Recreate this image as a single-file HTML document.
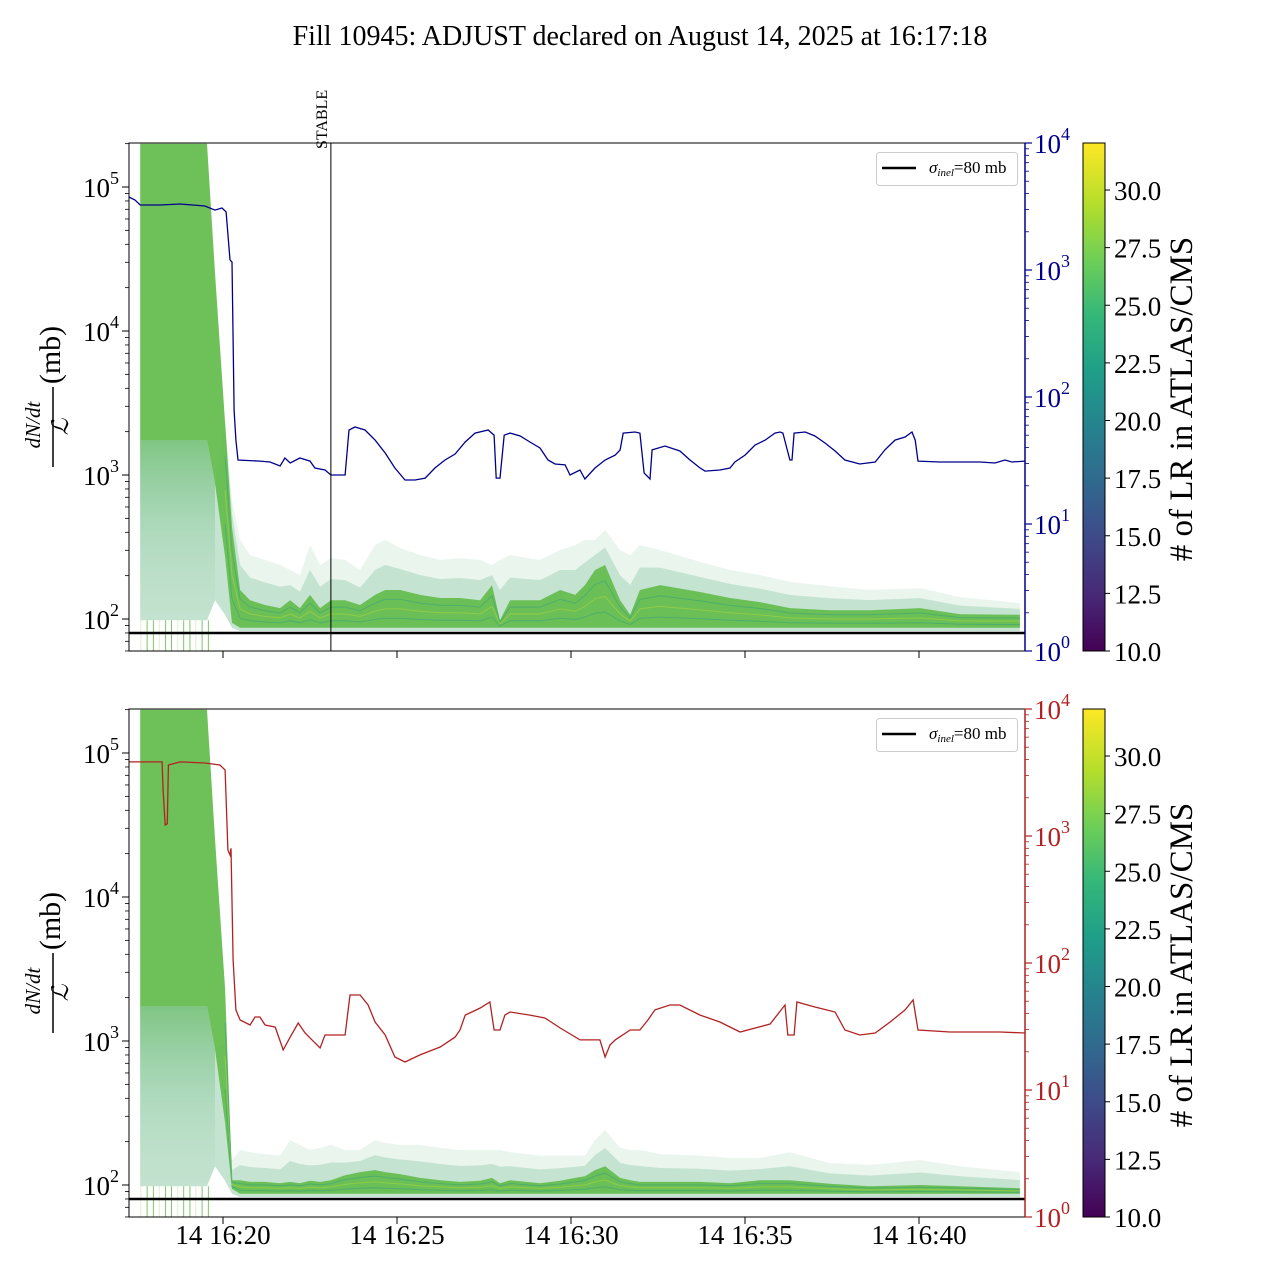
<!DOCTYPE html>
<html><head><meta charset="utf-8"><style>
html,body{margin:0;padding:0;background:#fff;}
svg{display:block;font-family:"Liberation Serif","DejaVu Serif",serif;}
</style></head><body>
<svg id="chart" width="1280" height="1280" viewBox="0 0 1280 1280" xmlns="http://www.w3.org/2000/svg">
<defs>
<linearGradient id="viridis" x1="0" y1="1" x2="0" y2="0">
<stop offset="0" stop-color="#440154"/><stop offset="0.11" stop-color="#482878"/><stop offset="0.22" stop-color="#3e4989"/><stop offset="0.33" stop-color="#31688e"/><stop offset="0.44" stop-color="#26828e"/><stop offset="0.55" stop-color="#1f9e89"/><stop offset="0.66" stop-color="#35b779"/><stop offset="0.77" stop-color="#6ece58"/><stop offset="0.88" stop-color="#b5de2b"/><stop offset="1" stop-color="#fde725"/>
</linearGradient>
<linearGradient id="fade" x1="0" y1="0" x2="0" y2="1">
<stop offset="0" stop-color="#66bd50" stop-opacity="0.9"/><stop offset="0.5" stop-color="#7cc88a" stop-opacity="0.35"/><stop offset="1" stop-color="#e4f2e4" stop-opacity="0.1"/>
</linearGradient>
<clipPath id="clipTop"><rect x="129" y="143" width="896" height="508"/></clipPath>
<clipPath id="clipBot"><rect x="129" y="709" width="896" height="508"/></clipPath>
</defs>
<text x="640" y="45" font-size="28" text-anchor="middle">Fill 10945: ADJUST declared on August 14, 2025 at 16:17:18</text>
<g id="root"></g>
</svg>
<script>
// ---- data (time in minutes after 16:00) ----
const bandTime = [17.62,19.54,19.77,20.06,20.26,20.49,20.78,21.21,21.64,21.93,22.21,22.5,22.79,23.1,23.51,23.94,24.37,24.66,25.09,25.66,26.24,26.81,27.39,27.73,27.96,28.25,29.11,29.69,30.12,30.4,30.69,30.98,31.41,31.7,31.98,32.56,33.71,34.57,35.43,36.29,37.44,38.59,40.03,41.18,42.9];
const topFaintUp = [200000,200000,25300,2300,670,354,278,257,237,219,202,326,237,265,257,219,326,354,311,278,257,265,257,237,257,278,257,301,326,354,354,415,301,278,326,301,249,219,202,181,169,159,164,142,129];
const topCoreUp  = [200000,200000,25300,2300,435,159,135,125,119,135,119,147,119,135,135,125,147,159,159,147,140,140,135,172,98,135,135,159,147,172,219,237,135,107,159,172,154,140,131,119,115,115,119,108,107];
const botFaintUp = [200000,200000,866,389,149,175,169,164,160,205,190,175,181,190,175,175,205,196,190,190,181,175,175,175,175,169,160,160,160,160,205,241,181,175,175,164,160,154,154,169,142,138,149,135,123];
const botCoreUp  = [200000,200000,25300,2300,108,108,105,105,103,105,103,107,105,108,117,123,127,123,119,112,108,105,107,112,103,108,103,107,112,115,127,135,112,108,105,105,105,103,108,108,102,98,100,98,95];
const coreLo     = [1750,1750,880,270,94,87,87,87,87,87,87,87,87,87,87,87,87,87,87,87,87,87,87,87,87,87,87,87,87,87,87,87,87,87,87,87,87,87,87,87,87,87,87,87,87];
const faintLo    = [98,98,135,107,87,82.5,82.5,82.5,82.5,82.5,82.5,82.5,82.5,82.5,82.5,82.5,82.5,82.5,82.5,82.5,82.5,82.5,82.5,82.5,82.5,82.5,82.5,82.5,82.5,82.5,82.5,82.5,82.5,82.5,82.5,82.5,82.5,82.5,82.5,82.5,82.5,82.5,82.5,82.5,82.5];
const dropTimes = [17.64,17.82,18.0,18.17,18.35,18.52,18.7,18.87,19.05,19.22,19.4,19.58];

const blueTime = [17.3,17.47,17.62,18.19,18.77,19.48,19.77,19.97,20.09,20.2,20.26,20.32,20.37,20.43,21.06,21.35,21.64,21.78,21.93,22.21,22.5,22.64,22.93,23.1,23.51,23.62,23.79,24.08,24.37,24.66,24.94,25.23,25.52,25.81,26.09,26.38,26.67,26.96,27.24,27.62,27.79,27.85,27.96,28.08,28.25,28.54,28.82,29.11,29.34,29.54,29.83,29.97,30.26,30.4,30.69,30.98,31.27,31.41,31.5,31.84,31.98,32.1,32.27,32.33,32.7,33.13,33.42,33.71,33.85,34.28,34.57,34.71,35.0,35.29,35.58,35.86,36.01,36.09,36.29,36.35,36.41,36.73,37.01,37.3,37.59,37.87,38.3,38.74,39.02,39.31,39.6,39.8,39.89,39.97,40.6,41.75,42.18,42.47,42.67,43.05];
const blueVal = [3757,3556,3250,3250,3310,3190,2965,3080,2865,1200,1156,79,45.8,31.9,31.3,30.8,28.6,33.1,30.2,33.1,31.3,27.6,26.6,24.3,24.3,55,58,55,45.8,36.2,27.6,22.2,22.2,23,27.6,31.9,35.6,44.2,52,55,50,23,23,50,52,49.3,44.2,39.7,31.9,29.7,29.2,24.3,26.6,22.6,27.6,31.9,34.9,38.3,52,53,52,25.2,22.6,38.3,41.1,37.6,31.9,27.6,26.1,26.6,27.6,30.8,34.9,41.9,45.8,52,53,52,31.9,31.9,52,53,49.3,43.4,37.6,31.9,29.7,30.8,38.3,45.8,48.4,53,45.8,31.3,30.8,30.8,30.2,31.9,30.8,31.3];

const redTime = [17.3,18.19,18.25,18.28,18.34,18.4,18.43,18.77,19.48,19.91,20.06,20.14,20.2,20.23,20.29,20.37,20.49,20.78,20.92,21.06,21.21,21.5,21.73,21.93,22.16,22.36,22.5,22.79,22.93,23.51,23.65,23.94,24.17,24.37,24.66,24.94,25.23,25.66,26.24,26.67,26.81,26.96,27.39,27.67,27.79,27.96,28.1,28.25,28.82,29.25,29.69,30.26,30.83,30.98,31.12,31.27,31.7,31.98,32.21,32.41,32.84,33.13,33.71,34.28,34.86,35.72,36.15,36.23,36.41,36.49,37.01,37.59,37.87,38.3,38.74,39.17,39.6,39.83,39.97,40.89,42.33,43.05];
const redVal = [3830,3830,3830,2300,1220,1250,3620,3830,3760,3620,3310,776,708,800,106,42.7,35.6,32.5,37.6,37.6,32.5,31.3,20.7,26.1,33.7,28.1,25.7,21.4,27.1,27.1,56,56,46.7,34.3,27.1,18.2,16.6,18.9,21.8,26.1,29.7,38.9,44.2,49.3,29.7,29.7,38.9,41.1,38.9,36.9,30.8,24.8,24.8,18.2,22.6,24.8,29.7,29.7,35.6,42.7,46.7,46.7,38.9,34.3,28.6,33.1,46.7,27.1,27.1,49.3,45,41.1,29.7,27.1,28.1,34.3,42.7,51.2,29.7,28.6,28.6,28.1];

const leftTicks = [2,3,4,5];
const rightTicks = [0,1,2,3,4];
const xTickTimes = [20,25,30,35,40];
const xTickLabels = ["14 16:20","14 16:25","14 16:30","14 16:35","14 16:40"];
const cbarTicks = [10.0,12.5,15.0,17.5,20.0,22.5,25.0,27.5,30.0];
const sigmaInel = 80;
const stableTime = 23.1;

// ---- helpers ----
const NS = "http://www.w3.org/2000/svg";
const root = document.getElementById('root');
function mk(tag, attrs, parent, txt){
  const e = document.createElementNS(NS, tag);
  for (const k in attrs) e.setAttribute(k, attrs[k]);
  if (txt !== undefined) e.textContent = txt;
  (parent || root).appendChild(e);
  return e;
}
const X0 = 129, X1 = 1025;
function xs(t){ return 223 + (t - 20) * 34.8; }
function yL(v, top){ return top + 44 + (5 - Math.log10(v)) * 144; }
function yR(v, top){ return top + (4 - Math.log10(v)) * 127; }

function panel(top, name, faintUp, coreUp, rightArr, rightTime, rightColor, showXLabels){
  const bot = top + 508;
  const g = mk('g', {});
  
  
  const clip = mk('g', {'clip-path': top < 400 ? 'url(#clipTop)' : 'url(#clipBot)'}, g);
  dropTimes.forEach((t, i) => {
    const l = mk('line', {x1: xs(t), x2: xs(t), y1: yL(faintLo[0], top), y2: bot, stroke: i % 3 === 0 ? '#c8e6b0' : '#6cc35a', 'stroke-width': 1, opacity: i % 3 === 0 ? 0.6 : 0.9}, clip);
    
    
  });
  function poly(up, lo, fill, op, nm, n){
    n = n || bandTime.length;
    let pts = [];
    for (let i = 0; i < n; i++) pts.push(xs(bandTime[i]).toFixed(1) + ',' + yL(up[i], top).toFixed(1));
    for (let i = n - 1; i >= 0; i--) pts.push(xs(bandTime[i]).toFixed(1) + ',' + yL(lo[i], top).toFixed(1));
    const p = mk('polygon', {points: pts.join(' '), fill: fill, opacity: op}, clip);
    
    
    return p;
  }
  // early fade below dense core (pre-dump lines reaching down)
  const fadeLo = faintLo.slice(0, 3);
  poly(coreLo, faintLo, 'url(#fade)', 1, 'lr-band-early-fade', 3);
  const faintPart = faintUp.map((v, i) => i < 3 ? coreLo[i] : v);
  poly(faintPart, faintLo, '#b9ddc4', 0.3, 'lr-band-envelope');
  const mid = coreUp.map((v, i) => i < 3 ? coreLo[i] : Math.sqrt(v * faintUp[i]));
  poly(mid, faintLo, '#6cb88e', 0.3, 'lr-band-mid');
  poly(coreUp, coreLo, '#66bd50', 0.95, 'lr-band-core');
  [0.25, 0.5, 0.75].forEach((f, k) => {
    let d = '';
    for (let i = 3; i < bandTime.length; i++) {
      const v = Math.pow(10, Math.log10(coreLo[i]) + f * (Math.log10(coreUp[i]) - Math.log10(coreLo[i])));
      d += (i > 3 ? 'L' : 'M') + xs(bandTime[i]).toFixed(1) + ',' + yL(v, top).toFixed(1);
    }
    const p = mk('path', {d: d, fill: 'none', stroke: k === 1 ? '#a8d63a' : '#3aa47c', 'stroke-width': 1, opacity: 0.6}, clip);
    
    
  });
  const s = mk('line', {x1: X0, x2: X1, y1: yL(sigmaInel, top), y2: yL(sigmaInel, top), stroke: '#000', 'stroke-width': 2.5}, g);
  
  
  let d = '';
  rightTime.forEach((t, i) => { d += (i ? 'L' : 'M') + xs(t).toFixed(1) + ',' + yR(rightArr[i], top).toFixed(1); });
  const rl = mk('path', {d: d, fill: 'none', stroke: rightColor, 'stroke-width': 1.3}, clip);
  
  
  const fr = mk('rect', {x: X0, y: top, width: X1 - X0, height: 508, fill: 'none', stroke: '#000', 'stroke-width': 1}, g);
  
  
  const rs = mk('line', {x1: X1, x2: X1, y1: top, y2: bot, stroke: rightColor, 'stroke-width': 1.5}, g);
  
  
  for (let e = 1; e <= 5; e++) for (let m = 1; m <= 9; m++) {
    const v = m * Math.pow(10, e), y = yL(v, top);
    if (y < top - 0.5 || y > bot + 0.5) continue;
    const tk = mk('line', {x1: X0, x2: X0 - (m === 1 ? 7 : 4), y1: y, y2: y, stroke: '#000', 'stroke-width': m === 1 ? 1 : 0.8}, g);
    
    
  }
  leftTicks.forEach(e => {
    const y = yL(Math.pow(10, e), top);
    const t = mk('text', {x: 110, y: y + 10, 'font-size': 27, 'text-anchor': 'end'}, g, '10');
    
    
    mk('text', {x: 110, y: y - 3, 'font-size': 18}, g, String(e));
  });
  for (let e = 0; e <= 3; e++) for (let m = 1; m <= 10; m++) {
    if (m === 10 && e < 3) continue;
    const v = m * Math.pow(10, e), y = yR(v, top);
    const maj = (m === 1 || m === 10);
    const tk = mk('line', {x1: X1, x2: X1 + (maj ? 7 : 4), y1: y, y2: y, stroke: rightColor, 'stroke-width': maj ? 1.2 : 0.8}, g);
    
    
  }
  rightTicks.forEach(e => {
    const y = yR(Math.pow(10, e), top);
    const t = mk('text', {x: 1034, y: y + 10, 'font-size': 27, fill: rightColor}, g, '10');
    
    
    mk('text', {x: 1061, y: y - 3, 'font-size': 18, fill: rightColor}, g, String(e));
  });
  xTickTimes.forEach((t, i) => {
    const tk = mk('line', {x1: xs(t), x2: xs(t), y1: bot, y2: bot + 7, stroke: '#000'}, g);
    
    
    if (showXLabels) {
      const tl = mk('text', {x: xs(t), y: bot + 27, 'font-size': 27, 'text-anchor': 'middle'}, g, xTickLabels[i]);
      
      
    }
  });
  const yl = mk('g', {transform: 'translate(48,' + (top + 257) + ') rotate(-90)'}, g);
  
  
  mk('text', {x: -25, y: -8, 'font-size': 21, 'font-style': 'italic', 'text-anchor': 'middle'}, yl, 'dN/dt');
  mk('line', {x1: -67, x2: 13, y1: 5, y2: 5, stroke: '#000', 'stroke-width': 1.5}, yl);
  mk('text', {x: -27, y: 20, 'font-size': 23, 'font-style': 'italic', 'text-anchor': 'middle'}, yl, 'ℒ');
  mk('text', {x: 45, y: 12, 'font-size': 30, 'text-anchor': 'middle'}, yl, '(mb)');
  const lg = mk('g', {}, g);
  
  
  mk('rect', {x: 876.5, y: top + 9.5, width: 141, height: 33, rx: 3, fill: '#fff', stroke: '#ccc'}, lg);
  mk('line', {x1: 882, x2: 916, y1: top + 25, y2: top + 25, stroke: '#000', 'stroke-width': 2.5}, lg);
  const lt = mk('text', {x: 929, y: top + 30, 'font-size': 17}, lg);
  
  
  mk('tspan', {'font-style': 'italic'}, lt, 'σ');
  mk('tspan', {'font-style': 'italic', 'font-size': 11, dy: 3}, lt, 'inel');
  mk('tspan', {dy: -3}, lt, '=80 mb');
  const cb = mk('g', {}, g);
  
  
  mk('rect', {x: 1083, y: top, width: 22, height: 508, fill: 'url(#viridis)', stroke: '#000', 'stroke-width': 1}, cb);
  const cy = v => bot - (v - 10) / 22.04 * 508;
  cbarTicks.forEach(v => {
    mk('line', {x1: 1105, x2: 1110, y1: cy(v), y2: cy(v), stroke: '#000'}, cb);
    const t = mk('text', {x: 1114, y: cy(v) + 10, 'font-size': 27}, cb, v.toFixed(1));
    
    
  });
  const cl = mk('text', {x: 0, y: 0, 'font-size': 33, 'text-anchor': 'middle', transform: 'translate(1192,' + (top + 256) + ') rotate(-90)'}, cb, '# of LR in ATLAS/CMS');
  
  
  return g;
}

panel(143, 'top-panel', topFaintUp, topCoreUp, blueVal, blueTime, '#00008b', false);
panel(709, 'bottom-panel', botFaintUp, botCoreUp, redVal, redTime, '#b22222', true);

const sl = mk('line', {x1: xs(stableTime), x2: xs(stableTime), y1: 143, y2: 651, stroke: '#000', 'stroke-width': 1});


const st = mk('text', {x: 0, y: 0, 'font-size': 16, transform: 'translate(' + (xs(stableTime) - 4) + ',149) rotate(-90)'}, root, 'STABLE');


</script>
</body></html>
